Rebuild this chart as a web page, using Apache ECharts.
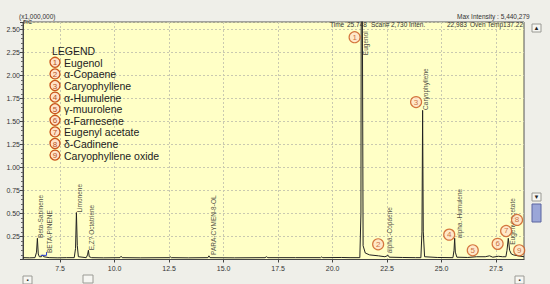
<!DOCTYPE html>
<html><head><meta charset="utf-8">
<script src="https://cdn.jsdelivr.net/npm/echarts@6/dist/echarts.min.js"></script>
<style>html,body{margin:0;padding:0;background:#efefe9;}#c{width:550px;height:284px;}</style>
</head><body><div id="c"></div>
<script>
// Retention time (min) and TIC intensity (x1,000,000)
const retentionTimes = [5.80,6.10,6.35,6.42,6.46,6.50,6.55,6.65,6.70,6.75,7.00,7.40,7.80,8.15,8.21,8.25,8.29,8.34,8.70,8.76,8.80,8.84,8.95,9.50,10.25,10.30,10.35,11.20,12.50,12.55,12.60,13.40,14.28,14.33,14.38,15.50,16.90,16.97,17.03,18.30,19.45,19.50,19.55,20.40,20.80,21.25,21.30,21.33,21.36,21.40,21.50,21.70,22.10,22.40,22.50,22.55,22.60,23.20,23.80,24.05,24.10,24.13,24.16,24.22,24.80,25.52,25.57,25.60,25.63,25.70,26.20,26.60,27.00,27.20,27.35,27.60,27.80,27.95,28.00,28.06,28.12,28.20,28.30,28.50,28.78];
const intensities    = [0.020,0.018,0.020,0.080,0.230,0.060,0.030,0.030,0.050,0.030,0.020,0.018,0.020,0.020,0.120,0.510,0.150,0.030,0.020,0.050,0.100,0.030,0.020,0.018,0.020,0.035,0.020,0.018,0.020,0.030,0.020,0.018,0.020,0.040,0.020,0.018,0.020,0.030,0.020,0.020,0.020,0.028,0.020,0.022,0.020,0.020,0.500,5.440,5.440,0.150,0.070,0.050,0.040,0.030,0.040,0.045,0.025,0.022,0.020,0.020,0.300,1.620,0.300,0.030,0.022,0.020,0.100,0.230,0.080,0.025,0.022,0.030,0.030,0.040,0.025,0.035,0.030,0.030,0.100,0.230,0.100,0.060,0.050,0.040,0.030];
const baselineMarkTimes = [6.61,6.88,6.88];
const baselineMarkLevels = [0.045,0.045,0.08];

const xTickValues = [7.5,10,12.5,15,17.5,20,22.5,25,27.5];

// Vertical peak labels: name, time, level at the label's lower end
const peakLabelNames = ['Beta-Sabinene','BETA-PINENE','Limonene','E,Z? Octatriene','PARA-CYMEN-8-OL','Eugenol','alpha.-Copaene','Caryophyllene','alpha.-Humulene','Eugenyl acetate'];
const peakLabelTimes = [6.61,7.01,8.38,8.95,14.53,21.53,22.60,24.28,25.81,28.23];
const peakLabelLevels = [0.234,0.07,0.51,0.10,0.05,2.22,0.067,1.625,0.23,0.16];

// Circled numbers in the plot
const markerNumbers = ['1','3','2','4','5','6','7','8','9'];
const markerTimes = [21.01,23.83,22.09,25.35,26.43,27.57,27.96,28.46,28.56];
const markerLevels = [2.415,1.71,0.165,0.27,0.10,0.17,0.31,0.43,0.10];

// Legend
const legendNumbers = ['1','2','3','4','5','6','7','8','9'];
const legendNames = ['Eugenol','α-Copaene','Caryophyllene','α-Humulene','γ-muurolene','α-Farnesene','Eugenyl acetate','δ-Cadinene','Caryophyllene oxide'];

const FONT = 'Liberation Sans, Arial, sans-serif';
const chart = echarts.init(document.getElementById('c'), null, {renderer:'svg'});

const graphics = [];
graphics.push({type:'text', left:19, top:13, style:{text:'(x1,000,000)', font:'6.5px '+FONT, fill:'#333'}});
graphics.push({type:'text', left:23, top:19, z:20, style:{text:'TIC', font:'5.5px '+FONT, fill:'#222'}});
graphics.push({type:'text', left:457, top:13, style:{text:'Max Intensity : 5,440,279', font:'6.5px '+FONT, fill:'#333'}});
const header = [['Time',330],['25.748',347],['Scan#',371],['2,730',391],['Inten.',409],['22,983',447],['Oven Temp137.22',470]];
header.forEach(h=>graphics.push({type:'text', left:h[1], top:21, z:20, style:{text:h[0], font:'6.5px '+FONT, fill:'#333'}}));
graphics.push({type:'text', left:52, top:45, z:20, style:{text:'LEGEND', font:'10.5px '+FONT, fill:'#222'}});
legendNames.forEach((n,i)=>{
  const cy = 62.3 + 11.6*i;
  graphics.push({type:'circle', z:20, shape:{cx:55, cy:cy, r:5}, style:{fill:'#ffe2c8', stroke:'#c9561c', lineWidth:1.3}});
  graphics.push({type:'text', z:21, x:55, y:cy+0.5, style:{text:legendNumbers[i], font:'8px '+FONT, fill:'#b8501a', align:'center', verticalAlign:'middle'}});
  graphics.push({type:'text', z:21, x:64, y:cy+0.5, style:{text:n, font:'10.5px '+FONT, fill:'#222', verticalAlign:'middle'}});
});
// window buttons (scroll controls)
function btn(x,y,w,h,sym){
  graphics.push({type:'rect', shape:{x:x,y:y,width:w,height:h}, style:{fill:'#f6f6f2', stroke:'#9a9a94', lineWidth:1}});
  if(sym) graphics.push({type:'text', x:x+w/2, y:y+h/2, style:{text:sym, font:'6px '+FONT, fill:'#222', align:'center', verticalAlign:'middle'}});
}
btn(532,24,9,8,'▲'); btn(532,193,9,8,'▼');
graphics.push({type:'rect', shape:{x:532,y:204,width:9,height:18}, style:{fill:'#9aa6d8', stroke:'#5a64a0', lineWidth:1}});
btn(23,276,9,8,'▪'); btn(83,275,10,8,''); btn(515,276,9,8,'▪');

const option = {
  animation:false,
  backgroundColor:'#efefe9',
  textStyle:{fontFamily:FONT},
  grid:{left:23, right:26, top:22, bottom:24.5, show:true, backgroundColor:'#ffffc6', borderColor:'#555', borderWidth:1},
  xAxis:{type:'value', min:5.8, max:28.78,
    axisLine:{show:true, onZero:false, lineStyle:{color:'#444'}},
    axisTick:{show:true, customValues:xTickValues, length:3, lineStyle:{color:'#444'}},
    axisLabel:{customValues:xTickValues, fontSize:7, color:'#333', margin:5, formatter:v=>v.toFixed(1)},
    splitLine:{show:true, lineStyle:{color:'#c9c9b0', type:[2,2], width:1}}},
  yAxis:{type:'value', min:0, max:2.58, interval:0.25,
    axisLine:{show:true, lineStyle:{color:'#444'}},
    axisTick:{show:true, length:3, lineStyle:{color:'#444'}},
    minorTick:{show:true, splitNumber:5, length:2, lineStyle:{color:'#666'}},
    axisLabel:{fontSize:7, color:'#333', margin:3, formatter:v=>{const k=v/0.25; return (v>0 && Math.abs(k-Math.round(k))<1e-6)? v.toFixed(2):'';}},
    splitLine:{show:true, lineStyle:{color:'#c9c9b0', type:[2,2], width:1}}},
  graphic:graphics,
  series:[
    {type:'line', data:retentionTimes.map((t,i)=>[t,intensities[i]]), showSymbol:false, symbol:'none', clip:true,
      lineStyle:{color:'#222', width:1}, z:3},
    {type:'line', data:baselineMarkTimes.map((t,i)=>[t,baselineMarkLevels[i]]), symbol:'none', lineStyle:{color:'#2a3fd0', width:1}, z:4},
    {type:'scatter', data:peakLabelNames.map((n,i)=>({name:n, value:[peakLabelTimes[i],peakLabelLevels[i]]})), symbolSize:1, itemStyle:{color:'rgba(0,0,0,0)'}, z:5,
      label:{show:true, formatter:'{b}', position:'inside', rotate:90, align:'left', verticalAlign:'middle', fontSize:6.5, color:'#222', fontFamily:FONT}},
    {type:'scatter', data:markerNumbers.map((n,i)=>({name:n, value:[markerTimes[i],markerLevels[i]]})), symbol:'circle', symbolSize:11, z:6,
      itemStyle:{color:'#ffe2c8', borderColor:'#c9561c', borderWidth:1.2},
      label:{show:true, formatter:'{b}', position:'inside', fontSize:8, color:'#c0501a', fontFamily:FONT}}
  ]
};
chart.setOption(option);
</script></body></html>
